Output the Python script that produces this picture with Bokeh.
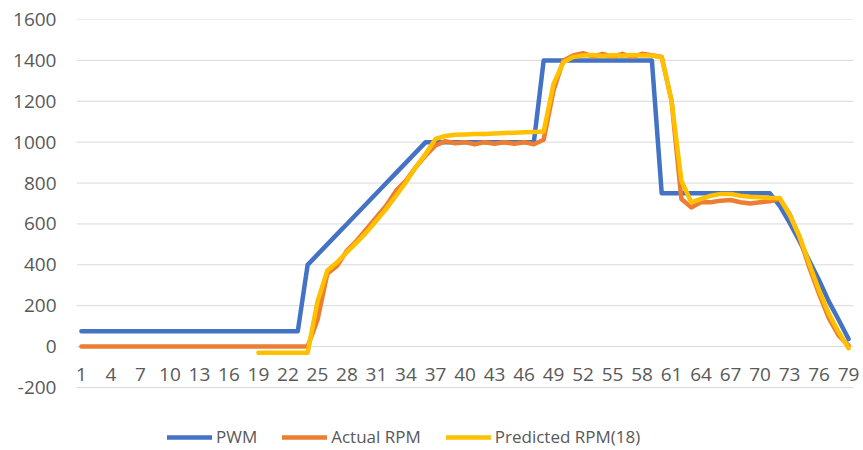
from bokeh.plotting import figure
from bokeh.models import ColumnDataSource, FixedTicker, Legend, LegendItem, Range1d
from bokeh.core.properties import value
from bokeh.embed import file_html
from bokeh.resources import INLINE
import numpy as np

nan = np.nan

# categories 1..79
x = list(range(1, 80))

pwm = [75] * 23 + [400, 450, 500, 550, 600, 650, 700, 750, 800, 850, 900, 950, 1000,
       1000, 1000, 1000, 1000, 1000, 1000, 1000, 1000, 1000, 1000, 1000,
       1400, 1400, 1400, 1400, 1400, 1400, 1400, 1400, 1400, 1400, 1400, 1400,
       750, 750, 750, 750, 750, 750, 750, 750, 750, 750, 750, 750,
       688, 606, 517, 420, 325, 220, 130, 37]

actual = [0] * 24 + [130, 356, 396, 470, 519, 576, 633, 690, 763, 812, 878, 935,
          984, 1005, 995, 1000, 990, 1000, 992, 1000, 992, 1000, 990, 1012,
          1253, 1400, 1424, 1435, 1419, 1432, 1417, 1432, 1417, 1432, 1425, 1417,
          1203, 722, 681, 706, 706, 714, 717, 706, 700, 706, 711, 722,
          649, 535, 388, 258, 138, 54, 5]

predicted = [nan] * 18 + [-30, -30, -30, -30, -30, -30,
             220, 372, 413, 462, 510, 560, 617, 674, 739, 804, 878, 943,
             1016, 1030, 1036, 1038, 1040, 1040, 1042, 1045, 1046, 1048, 1050, 1052,
             1285, 1391, 1416, 1424, 1426, 1422, 1425, 1423, 1426, 1424, 1424, 1415,
             1203, 812, 706, 722, 738, 747, 747, 738, 733, 730, 727, 727,
             645, 541, 405, 275, 160, 70, -8]

y_ticks = [-200, 0, 200, 400, 600, 800, 1000, 1200, 1400, 1600]
x_ticks = [1, 4, 7, 10, 13, 16, 19, 22, 25, 28, 31, 34, 37, 40, 43, 46, 49, 52,
           55, 58, 61, 64, 67, 70, 73, 76, 79]
x_tick_labels = [str(t) for t in x_ticks]

series_names = ["PWM", "Actual RPM", "Predicted RPM(18)"]
colors = ["#4472C4", "#ED7D31", "#FFC000"]

src = ColumnDataSource(dict(x=x, pwm=pwm, actual=actual, predicted=predicted))

# plot area: -200..1600 occupies the upper part of the frame; the lower strip
# holds the category labels and legend
Y_MIN, Y_MAX = -200, 1600
FRAME_H = 431
GRID_H = 368
y_lo = Y_MIN - (FRAME_H - GRID_H) * (Y_MAX - Y_MIN) / GRID_H

X_LO, X_HI = x[0] - 0.5, x[-1] + 0.5
GRID_W = 777      # pixel width of the category band
EXTRA_R = 10      # room on the right for the last label
x_hi_range = X_HI + EXTRA_R * (X_HI - X_LO) / GRID_W

p = figure(width=863, height=450, output_backend="svg", toolbar_location=None,
           x_range=Range1d(X_LO, x_hi_range), y_range=Range1d(y_lo, Y_MAX),
           x_axis_location=None,
           min_border_left=76, min_border_right=0, min_border_top=19,
           min_border_bottom=0)
p.outline_line_color = None
p.background_fill_color = "white"
p.border_fill_color = "white"
p.grid.visible = False

# horizontal gridlines across the category band only
p.segment(x0=[X_LO] * len(y_ticks), x1=[X_HI] * len(y_ticks), y0=y_ticks, y1=y_ticks,
          line_color="#D9D9D9", line_width=1)

renderers = []
for col, c in zip(["pwm", "actual", "predicted"], colors):
    r = p.line("x", col, source=src, line_color=c, line_width=4.5,
               line_join="round", line_cap="round")
    renderers.append(r)

# y axis
yax = p.yaxis[0]
yax.ticker = FixedTicker(ticks=y_ticks)
yax.major_label_overrides = {-200: "-200"}
yax.axis_line_color = None
yax.major_tick_line_color = None
yax.minor_tick_line_color = None
yax.major_tick_in = 0
yax.major_tick_out = 0
yax.major_label_standoff = 20
yax.major_label_text_font = "Open Sans"
yax.major_label_text_font_size = "19px"
yax.major_label_text_color = "#595959"

# category labels sitting just under the zero line
lab_src = ColumnDataSource(dict(x=x_ticks, y=[0] * len(x_ticks), t=x_tick_labels))
p.text(x="x", y="y", text="t", source=lab_src, y_offset=28,
       text_align="center", text_baseline="alphabetic",
       text_font=value("Open Sans"), text_font_size="19px", text_color="#595959")

legend = Legend(items=[LegendItem(label=n, renderers=[r]) for n, r in zip(series_names, renderers)],
                orientation="horizontal", location=(91, 2),
                glyph_width=45, glyph_height=20, label_standoff=4, spacing=25,
                padding=0, margin=0, border_line_color=None,
                background_fill_alpha=0,
                label_text_font="Open Sans", label_text_font_size="17px",
                label_text_color="#595959")
p.add_layout(legend)

open("out.html", "w").write(file_html(p, INLINE))
